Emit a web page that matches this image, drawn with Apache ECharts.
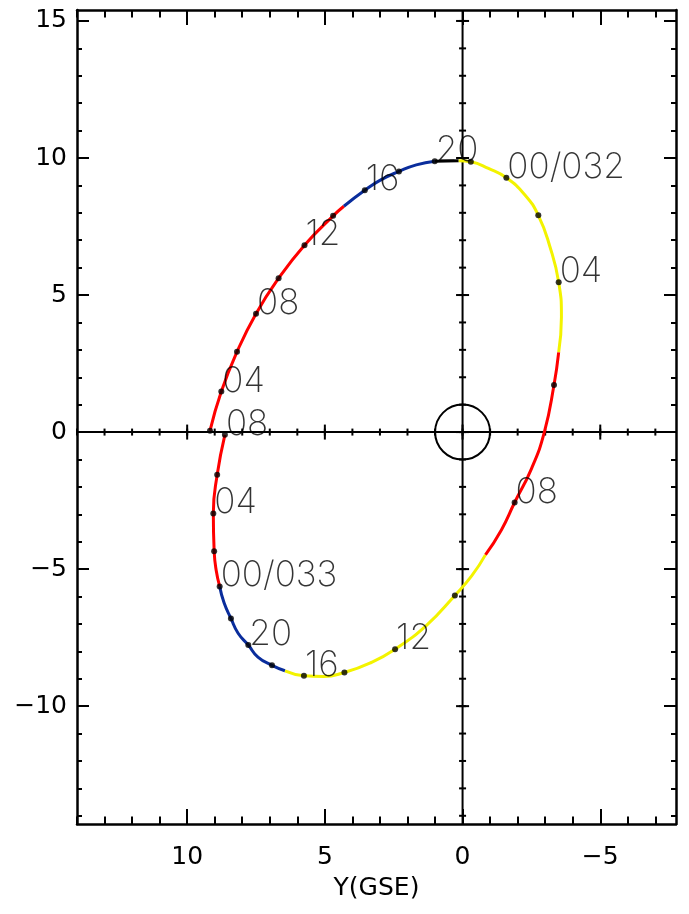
<!DOCTYPE html>
<html><head><meta charset="utf-8">
<script src="https://cdn.jsdelivr.net/npm/echarts@6/dist/echarts.min.js"></script>
<style>html,body{margin:0;padding:0;background:#fff}#c{width:689px;height:914px}</style>
</head><body><div id="c"></div>
<script>
// ---- data ----
const xRange = [-7.75, 14];      // Y(GSE), drawn reversed
const yRange = [-14.3, 15.4];
const xTickLabels = [10, 5, 0, -5];
const yTickLabels = [15, 10, 5, 0, -5, -10];
const xAxisName = 'Y(GSE)';

// trajectory points (2-hour dots, colour-change points, curve points)
const trackY = [9.17, 8.76, 8.19, 7.50, 6.68, 5.74, 4.70, 4.31, 3.55, 2.97, 2.31, 1.68, 1.01, 0.14,
  -0.30, -0.94, -1.59, -2.25, -2.75, -3.17, -3.49, -3.59, -3.49, -3.32, -2.97, -2.50, -1.89, -1.41, -0.83,
  -0.33, 0.28, 1.30, 2.45, 3.37, 4.29, 5.04, 5.76, 6.45, 6.92, 7.43, 7.78, 8.15, 8.41, 8.66, 8.82,
  8.95, 9.02, 9.05, 8.91, 8.63];
const trackZ = [0.05, 1.48, 2.93, 4.32, 5.61, 6.82, 7.89, 8.24, 8.82, 9.20, 9.51, 9.75, 9.88, 9.90,
  9.86, 9.62, 9.28, 8.67, 7.91, 6.77, 5.47, 4.20, 2.91, 1.72, 0.00, -1.34, -2.57, -3.57, -4.48,
  -5.25, -5.96, -7.04, -7.92, -8.43, -8.77, -8.92, -8.89, -8.71, -8.51, -8.21, -7.77, -7.34, -6.80, -6.23, -5.63,
  -5.02, -4.35, -2.97, -1.56, -0.10];
// null = no time marker, '' = unlabeled 2-hour marker
const trackLabel = ['', '04', '', '08', '', '12', '', null, '16', null, '', null, '20', null,
  '', null, '00/032', null, '', null, '04', null, null, '', null, null, '08', null, null,
  null, '', null, '12', null, '', null, '16', null, '', null, '20', null, '', null, '00/033',
  null, '', '04', '', '08'];
const segStart = [0, 7, 12, 13, 22, 28, 37, 44];
const segEnd   = [7, 12, 13, 22, 28, 37, 44, 49];
const segColor = ['#ff0000', '#0a2d9c', '#000000', '#f3f300', '#ff0000', '#f3f300', '#0a2d9c', '#ff0000'];
const earthRadius = 1;

// ---- chart ----
const black = '#000';
const tickFont = "'DejaVu Sans', sans-serif";
const fmt = v => (v < 0 ? '\u2212' + Math.abs(v) : String(v));
function ints(a, b) { const r = []; for (let v = Math.ceil(a); v <= Math.floor(b); v++) r.push(v); return r; }
const xMinor = ints(xRange[0], xRange[1]);
const yMinor = ints(yRange[0], yRange[1]);

const GRID = {left: 77, right: 13, top: 10, bottom: 90, containLabel: false, outerBoundsMode: 'none'};
function ax(dim, grid, pos, o) {
  const base = {
    type: 'value', gridIndex: grid, position: pos,
    min: dim === 'x' ? xRange[0] : yRange[0], max: dim === 'x' ? xRange[1] : yRange[1],
    inverse: dim === 'x',
    splitLine: {show: false}, axisLabel: {show: false},
    axisTick: {show: false}, axisLine: {show: false, onZero: false}
  };
  return Object.assign(base, o);
}
function ticks(vals, len, inside) {
  return {show: true, inside: inside, length: len, customValues: vals, lineStyle: {color: black, width: 2}};
}
const frameLine = {show: true, onZero: false, lineStyle: {color: black, width: 2.5}};

const xAxes = [
  ax('x', 0, 'bottom', {axisLine: frameLine, axisTick: ticks(xTickLabels, 15, true),
    axisLabel: {show: true, customValues: xTickLabels, formatter: fmt, fontSize: 25, color: black, margin: 21, fontFamily: tickFont},
    name: xAxisName, nameLocation: 'middle', nameGap: 52,
    nameTextStyle: {fontSize: 25, color: black, fontFamily: tickFont}}),
  ax('x', 0, 'top', {axisLine: frameLine, axisTick: ticks(xTickLabels, 15, true)}),
  ax('x', 1, 'bottom', {axisTick: ticks(xMinor, 7.5, true)}),
  ax('x', 1, 'top', {axisTick: ticks(xMinor, 7.5, true)})
];
const yAxes = [
  ax('y', 0, 'left', {axisLine: frameLine, axisTick: ticks(yTickLabels, 12, true),
    axisLabel: {show: true, customValues: yTickLabels, formatter: fmt, fontSize: 25, color: black, margin: 10, fontFamily: tickFont}}),
  ax('y', 0, 'right', {axisLine: frameLine, axisTick: ticks(yTickLabels, 12, true)}),
  ax('y', 1, 'left', {axisTick: ticks(yMinor, 5, true)}),
  ax('y', 1, 'right', {axisTick: ticks(yMinor, 5, true)})
];

// centre cross (x=0 and y=0 axes) with ticks on both sides
const crossPts = [], crossKind = [], crossLen = [];
function addCross(x, y, kind, len) { crossPts.push([x, y]); crossKind.push(kind); crossLen.push(len); }
addCross(0, 0, 'hline', 0);
addCross(0, 0, 'vline', 0);
xMinor.forEach(v => addCross(v, 0, 'htick', 3.5));
xTickLabels.forEach(v => addCross(v, 0, 'htick', 7.5));
yMinor.forEach(v => addCross(0, v, 'vtick', 3.5));
yTickLabels.forEach(v => addCross(0, v, 'vtick', 6.5));

const series = [];
series.push({
  type: 'custom', xAxisIndex: 0, yAxisIndex: 0, data: crossPts, z: 2, silent: true,
  renderItem: (params, api) => {
    const i = params.dataIndex, kind = crossKind[i], len = crossLen[i];
    let p1, p2;
    if (kind === 'hline') { p1 = api.coord([xRange[0], 0]); p2 = api.coord([xRange[1], 0]); }
    else if (kind === 'vline') { p1 = api.coord([0, yRange[0]]); p2 = api.coord([0, yRange[1]]); }
    else {
      const c = api.coord([crossPts[i][0], crossPts[i][1]]);
      if (kind === 'htick') { p1 = [c[0], c[1] - len]; p2 = [c[0], c[1] + len]; }
      else { p1 = [c[0] - len, c[1]]; p2 = [c[0] + len, c[1]]; }
    }
    return {type: 'line', shape: {x1: p1[0], y1: p1[1], x2: p2[0], y2: p2[1]},
      style: {stroke: black, lineWidth: 2}};
  }
});
segStart.forEach((s, i) => {
  const pts = [];
  for (let k = s; k <= segEnd[i]; k++) pts.push([trackY[k], trackZ[k]]);
  series.push({type: 'line', xAxisIndex: 0, yAxisIndex: 0, data: pts, smooth: true,
    showSymbol: false, symbol: 'none', silent: true, z: 3,
    lineStyle: {color: segColor[i], width: 3}});
});
const dots = [];
trackLabel.forEach((l, k) => { if (l !== null) dots.push([trackY[k], trackZ[k], l]); });
series.push({
  type: 'scatter', xAxisIndex: 0, yAxisIndex: 0, data: dots, symbol: 'circle', symbolSize: 6,
  itemStyle: {color: black}, z: 5, silent: true,
  label: {show: true, formatter: p => p.data[2], position: [4, 10], align: 'left', verticalAlign: 'bottom',
    fontFamily: "Inter, 'Open Sans', sans-serif", fontWeight: 200, fontSize: 35, color: '#000'}
});
series.push({
  type: 'custom', xAxisIndex: 0, yAxisIndex: 0, data: [[0, 0]], z: 4, silent: true,
  renderItem: (params, api) => {
    const c = api.coord([api.value(0), api.value(1)]);
    const s = api.size([earthRadius, earthRadius]);
    return {type: 'circle', shape: {cx: c[0], cy: c[1], r: (s[0] + s[1]) / 2},
      style: {fill: 'none', stroke: black, lineWidth: 2}};
  }
});

const chart = echarts.init(document.getElementById('c'), null, {renderer: 'canvas'});
chart.setOption({
  animation: false, backgroundColor: '#fff',
  grid: [GRID, GRID].map(g => Object.assign({}, g)),
  xAxis: xAxes, yAxis: yAxes, series: series
});
</script></body></html>
